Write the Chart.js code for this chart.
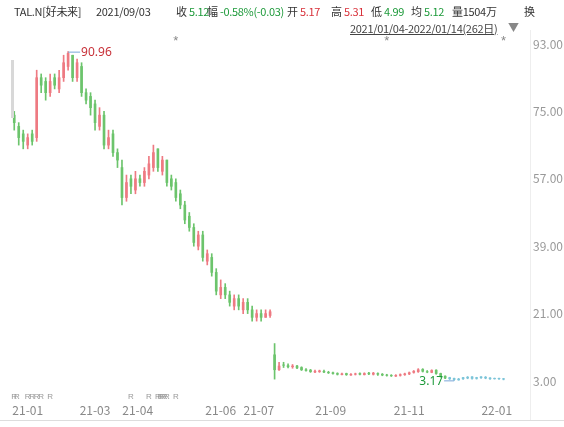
<!DOCTYPE html>
<html><head><meta charset="utf-8">
<script src="https://cdn.jsdelivr.net/npm/chart.js@4/dist/chart.umd.min.js"></script>
<style>
body{margin:0;background:#fff;font-family:"Noto Sans CJK SC","Noto Sans",sans-serif;}
#wrap{position:relative;width:564px;height:427px;overflow:hidden}
canvas{position:absolute;left:0;top:0}
.h{position:absolute;top:3px;font-size:11px;letter-spacing:-0.3px;color:#333;white-space:nowrap}
.r{color:#d8313a}.g{color:#1d9a3a}
#range{position:absolute;top:20px;left:350px;font-size:11px;letter-spacing:-0.3px;color:#444;text-decoration:underline;white-space:nowrap}
#tri{position:absolute;top:19px;left:508px;font-size:11px;color:#888}
#sb{position:absolute;left:11px;top:60px;width:3px;height:58px;background:#d8d8d8}
</style></head><body>
<div id="wrap">
<canvas id="c" width="564" height="427"></canvas>
<div id="sb"></div>
<div class="h" style="left:14px">TAL.N[好未来]</div>
<div class="h" style="left:96px">2021/09/03</div>
<div class="h" style="left:176px">收 <span class="g">5.12</span></div>
<div class="h" style="left:207px">幅 <span class="g">-0.58%(-0.03)</span></div>
<div class="h" style="left:287px">开 <span class="r">5.17</span></div>
<div class="h" style="left:331px">高 <span class="r">5.31</span></div>
<div class="h" style="left:371px">低 <span class="g">4.99</span></div>
<div class="h" style="left:411px">均 <span class="g">5.12</span></div>
<div class="h" style="left:452px">量1504万</div>
<div class="h" style="left:524px">换</div>
<div id="range">2021/01/04-2022/01/14(262日)</div>
<div id="tri">▼</div>
</div>
<script>
const closes=[72,68,67,68,67,84,82,80,83,82,84,88,90.5,84,88,80,78,76,72,74,66,68,64,62,52,56,55,57,56,59,61,64,60,62,56,55,52,50,46,44,40,42,36,37,32,27,28,26,24,25,23,24,22,20,21,20,21,21.5,6,7,7.2,6.8,7.0,6.5,6.0,5.8,5.5,5.6,5.7,5.4,5.2,5.0,4.8,4.9,4.7,4.8,4.9,4.8,5.0,4.9,5.1,4.8,4.6,4.5,4.4,4.5,4.7,4.9,5.2,5.6,6.0,5.6,5.4,5.8,5.0,4.2,3.8,3.6,3.4,3.5,3.9,4.0,3.7,3.9,4.1,3.8,3.6,3.7,3.6,3.5];
const opens=[74,71,69,66,69,68,84,83,80,84,81,84,87,90,84,87,80,79,77,71,74,66,69,64,60,52,57,54,57,56,58,60,65,59,62,57,56,53,50,47,44,39,42,35,36,32,26,28,26,23,25,22,24,22,20,21,20,20.5,10,6,7.3,7.1,6.8,7.0,6.6,6.0,5.9,5.4,5.5,5.6,5.3,5.2,5.0,4.7,5.0,4.6,4.8,5.0,4.7,5.1,4.8,5.0,4.8,4.6,4.5,4.3,4.5,4.7,4.9,5.3,5.5,6.1,5.5,5.3,5.9,5.0,4.3,3.9,3.7,3.3,3.6,3.8,4.1,3.7,3.9,4.0,3.8,3.6,3.7,3.6];
const highs=[75,72,70,69,70,86,85,84,85,85,86,90,90.96,90,89,88,81,80,78,76,75,70,70,65,62,58,58,59,58,60,63,66,65,63,62,58,57,54,51,48,45,43,43,38,37,33,30,29,27,26,26,25,25,23,22,22,22,22,13,8,8,7.6,7.4,7.2,6.8,6.3,6.1,5.9,5.9,5.9,5.6,5.4,5.2,5.1,5.1,5.0,5.1,5.2,5.2,5.3,5.3,5.2,5.0,4.8,4.7,4.7,4.9,5.1,5.4,5.8,6.3,6.3,5.8,6.0,6.0,5.1,4.4,4.0,3.8,3.7,4.0,4.2,4.2,4.0,4.2,4.2,3.9,3.8,3.8,3.7];
const lows=[70,66,65,65,66,67,80,78,79,81,80,83,86,83,83,79,77,74,70,70,65,65,63,60,50,51,53,53,55,55,57,59,59,58,55,54,51,49,45,43,39,38,35,34,31,26,25,25,23,22,22,21,21,19,19,19,20,20,3.5,5.8,6.6,6.5,6.4,6.3,5.8,5.6,5.3,5.2,5.3,5.2,5.0,4.8,4.6,4.6,4.5,4.5,4.6,4.6,4.6,4.7,4.6,4.5,4.4,4.3,4.2,4.2,4.3,4.5,4.7,5.1,5.3,5.4,5.2,5.2,4.8,4.0,3.6,3.4,3.17,3.2,3.4,3.6,3.5,3.5,3.7,3.6,3.4,3.5,3.4,3.3];
const yTicks=[93,75,57,39,21,3];
const xLabels=[{i:3,t:'21-01'},{i:18,t:'21-03'},{i:27.5,t:'21-04'},{i:46,t:'21-06'},{i:54.5,t:'21-07'},{i:70.5,t:'21-09'},{i:88,t:'21-11'},{i:107.5,t:'22-01'}];
const starIdx=[36,83,109];
const rIdx=[0,0.6,3,4,5,6,8,26,30,32,32.5,33,33.5,34,36];

const idx=closes.map((_,i)=>i);
const up=i=>closes[i]>=opens[i];
const col=i=>i>=97?'#7cc4d8':(up(i)?'#ee7a82':'#6cc46c');
const bodies=idx.map(i=>({x:i,y:[Math.min(opens[i],closes[i]),Math.max(opens[i],closes[i])+ (Math.abs(opens[i]-closes[i])<0.05?0.05:0)]}));
const wicks=idx.map(i=>({x:i,y:[lows[i],highs[i]]}));

const deco={id:'deco',afterDraw(ch){
  const c=ch.ctx,xs=ch.scales.x,ys=ch.scales.y,a=ch.chartArea;
  c.save();
  c.font='12px "Noto Sans CJK SC","Noto Sans",sans-serif';
  c.fillStyle='#999';c.textBaseline='middle';c.textAlign='left';
  yTicks.forEach(v=>c.fillText(v.toFixed(2),533,ys.getPixelForValue(v)));
  c.strokeStyle='#eee';c.beginPath();c.moveTo(a.right+0.5,30);c.lineTo(a.right+0.5,420);c.stroke();
  c.strokeStyle='#ddd';c.beginPath();c.moveTo(0,420.5);c.lineTo(564,420.5);c.stroke();
  c.textAlign='center';c.fillStyle='#888';
  xLabels.forEach(l=>c.fillText(l.t,xs.getPixelForValue(l.i),410));
  c.font='8px sans-serif';c.fillStyle='#999';
  rIdx.forEach(i=>c.fillText('R',xs.getPixelForValue(i),397));
  c.font='13px sans-serif';c.fillStyle='#888';
  starIdx.forEach(i=>c.fillText('*',xs.getPixelForValue(i),41));
  const mi=highs.indexOf(Math.max(...highs)),mx=xs.getPixelForValue(mi),my=ys.getPixelForValue(highs[mi]);
  c.strokeStyle='#7aa7d8';c.beginPath();c.moveTo(mx,my+0.5);c.lineTo(mx+12,my+0.5);c.stroke();
  c.font='12px "Noto Sans",sans-serif';c.textAlign='left';c.fillStyle='#c8323a';c.fillText(highs[mi].toFixed(2),mx+13,my+1);
  const li=lows.indexOf(Math.min(...lows)),lx=xs.getPixelForValue(li),ly=ys.getPixelForValue(lows[li]);
  c.strokeStyle='#7aa7d8';c.beginPath();c.moveTo(lx-10,ly+0.5);c.lineTo(lx,ly+0.5);c.stroke();
  c.textAlign='right';c.fillStyle='#1d9a3a';c.fillText(lows[li].toFixed(2),lx-11,ly+1);
  c.restore();
}};

new Chart(document.getElementById('c'),{
  type:'bar',
  data:{datasets:[
    {data:wicks,backgroundColor:idx.map(col),barThickness:1,grouped:false,order:2},
    {data:bodies,backgroundColor:idx.map(col),barThickness:2,grouped:false,order:1}
  ]},
  options:{responsive:false,animation:false,
    layout:{padding:{left:12,right:34,top:44,bottom:46}},
    plugins:{legend:{display:false},tooltip:{enabled:false}},
    scales:{
      x:{type:'linear',min:-0.5,max:114.9,display:false,offset:false},
      y:{min:3,max:93,display:false}
    }},
  plugins:[deco]
});
</script></body></html>
